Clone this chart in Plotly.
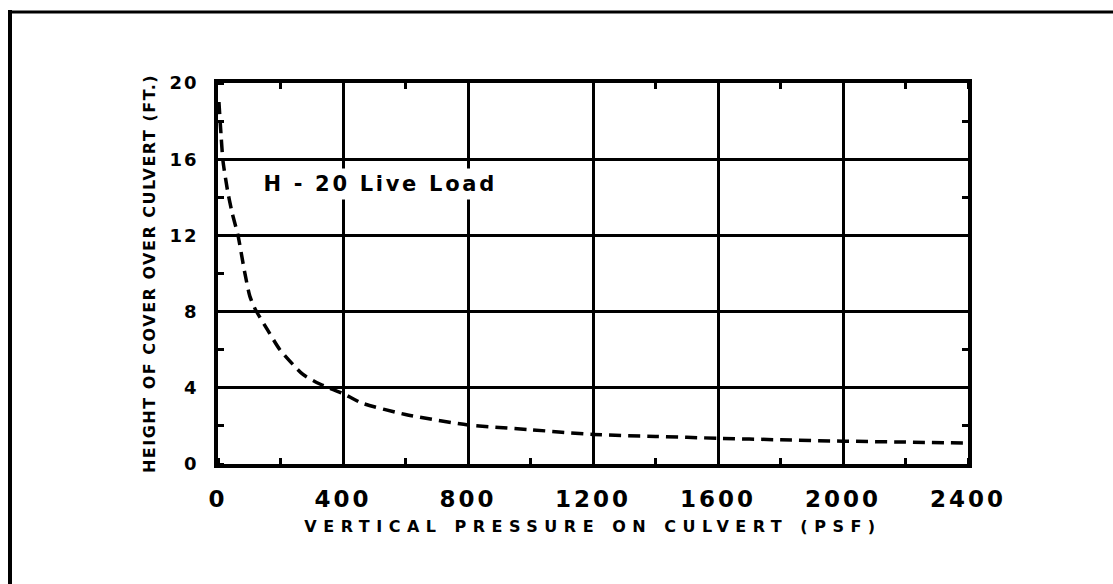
import plotly.graph_objects as go

# H-20 live load: vertical pressure on culvert (psf) vs height of cover (ft)
pressure_psf = [3, 10, 16, 30, 45, 64, 85, 102, 120, 160, 198, 272, 326, 400,
                460, 600, 800, 1000, 1200, 1400, 1600, 1800, 2000, 2200, 2400]
cover_ft = [19.0, 17.2, 15.9, 14.4, 13.2, 12.0, 10.1, 8.8, 8.1, 7.0, 6.0, 4.7, 4.2, 3.7,
            3.2, 2.6, 2.05, 1.8, 1.55, 1.45, 1.35, 1.27, 1.2, 1.15, 1.1]

x_ticks = [0, 400, 800, 1200, 1600, 2000, 2400]
x_tick_labels = ["0", "400", "800", "1200", "1600", "2000", "2400"]
y_ticks = [0, 4, 8, 12, 16, 20]
y_tick_labels = ["0", "4", "8", "12", "16", "20"]

curve_label = "H - 20 Live Load"
x_title = "VERTICAL PRESSURE ON CULVERT (PSF)"
y_title = "HEIGHT OF COVER OVER CULVERT (FT.)"

W, H = 1113, 584
ML, MR, MT, MB = 218, 145, 83, 120
plot_w = W - ML - MR
plot_h = H - MT - MB

FONT = "DejaVu Sans"


def px_to_paper_x(px):
    return (px - ML) / plot_w


def px_to_paper_y(py):
    return (H - MB - py) / plot_h


fig = go.Figure()
fig.add_trace(go.Scatter(
    x=pressure_psf, y=cover_ft, mode="lines",
    line=dict(color="black", width=3.5, dash="12px,7px", shape="spline", smoothing=0.6),
    showlegend=False, hoverinfo="skip",
))
# empty trace that brings up the mirrored top/right axes carrying the inner minor ticks
fig.add_trace(go.Scatter(x=[], y=[], xaxis="x2", yaxis="y2", showlegend=False, hoverinfo="skip"))

axis_common = dict(
    showgrid=True, gridcolor="black", gridwidth=2.5,
    showline=True, linecolor="black", linewidth=3.5, mirror=True,
    zeroline=False, ticks="",
    color="black",
)

fig.update_layout(
    xaxis=dict(
        range=[0, 2400], tickvals=x_ticks, ticktext=x_tick_labels,
        tickfont=dict(family=FONT, size=23, color="black", weight="bold"),
        ticklabelstandoff=12,
        title=dict(text=x_title, font=dict(family=FONT, size=16, color="black", weight="bold"), standoff=10),
        minor=dict(ticks="inside", dtick=200, tick0=0, ticklen=6, tickwidth=3, tickcolor="black", showgrid=False),
        **axis_common,
    ),
    yaxis=dict(
        range=[0, 20], tickvals=y_ticks, ticktext=y_tick_labels,
        tickfont=dict(family=FONT, size=18, color="black", weight="bold"),
        ticklabelstandoff=12,
        title=dict(text=y_title, font=dict(family=FONT, size=16, color="black", weight="bold"), standoff=15),
        minor=dict(ticks="inside", dtick=2, tick0=0, ticklen=6, tickwidth=3, tickcolor="black", showgrid=False),
        **axis_common,
    ),
    xaxis2=dict(
        overlaying="x", side="top", matches="x", range=[0, 2400],
        showgrid=False, showline=False, zeroline=False, showticklabels=False, ticks="",
        minor=dict(ticks="inside", dtick=200, tick0=0, ticklen=6, tickwidth=3, tickcolor="black", showgrid=False),
    ),
    yaxis2=dict(
        overlaying="y", side="right", matches="y", range=[0, 20], anchor="x2",
        showgrid=False, showline=False, zeroline=False, showticklabels=False, ticks="",
        minor=dict(ticks="inside", dtick=2, tick0=0, ticklen=6, tickwidth=3, tickcolor="black", showgrid=False),
    ),
)

# curve label; its letter spacing widens it evenly about the box centre
fig.add_annotation(
    x=202, y=14.7, xref="x", yref="y", xanchor="left", yanchor="middle",
    text=curve_label, showarrow=False,
    font=dict(family=FONT, size=21, color="black", weight="bold"),
    bgcolor="white", borderpad=3,
)

# page frame: top rule and left rule
frame_left_px, frame_top_px = 10, 12
fig.add_shape(type="line", xref="paper", yref="paper",
              x0=px_to_paper_x(frame_left_px), x1=px_to_paper_x(W + 5),
              y0=px_to_paper_y(frame_top_px), y1=px_to_paper_y(frame_top_px),
              line=dict(color="black", width=3))
fig.add_shape(type="line", xref="paper", yref="paper",
              x0=px_to_paper_x(frame_left_px), x1=px_to_paper_x(frame_left_px),
              y0=px_to_paper_y(frame_top_px - 2), y1=px_to_paper_y(H + 5),
              line=dict(color="black", width=4))

fig.update_layout(
    width=W, height=H,
    margin=dict(l=ML, r=MR, t=MT, b=MB),
    paper_bgcolor="white", plot_bgcolor="white",
    font=dict(family=FONT, color="black"),
)

spacing_js = """
var gd = document.getElementById('{plot_id}');
function spaceText() {
  var set = function (sel, v) {
    gd.querySelectorAll(sel).forEach(function (t) { t.style.letterSpacing = v; });
  };
  set('.xtick text', '3px');
  set('.ytick text', '2px');
  set('text.xtitle', '6.5px');
  set('text.ytitle', '1.5px');
  set('text.annotation-text', '2.7px');
}
spaceText();
gd.on('plotly_afterplot', spaceText);
"""

fig.write_html("out.html", post_script=spacing_js)
